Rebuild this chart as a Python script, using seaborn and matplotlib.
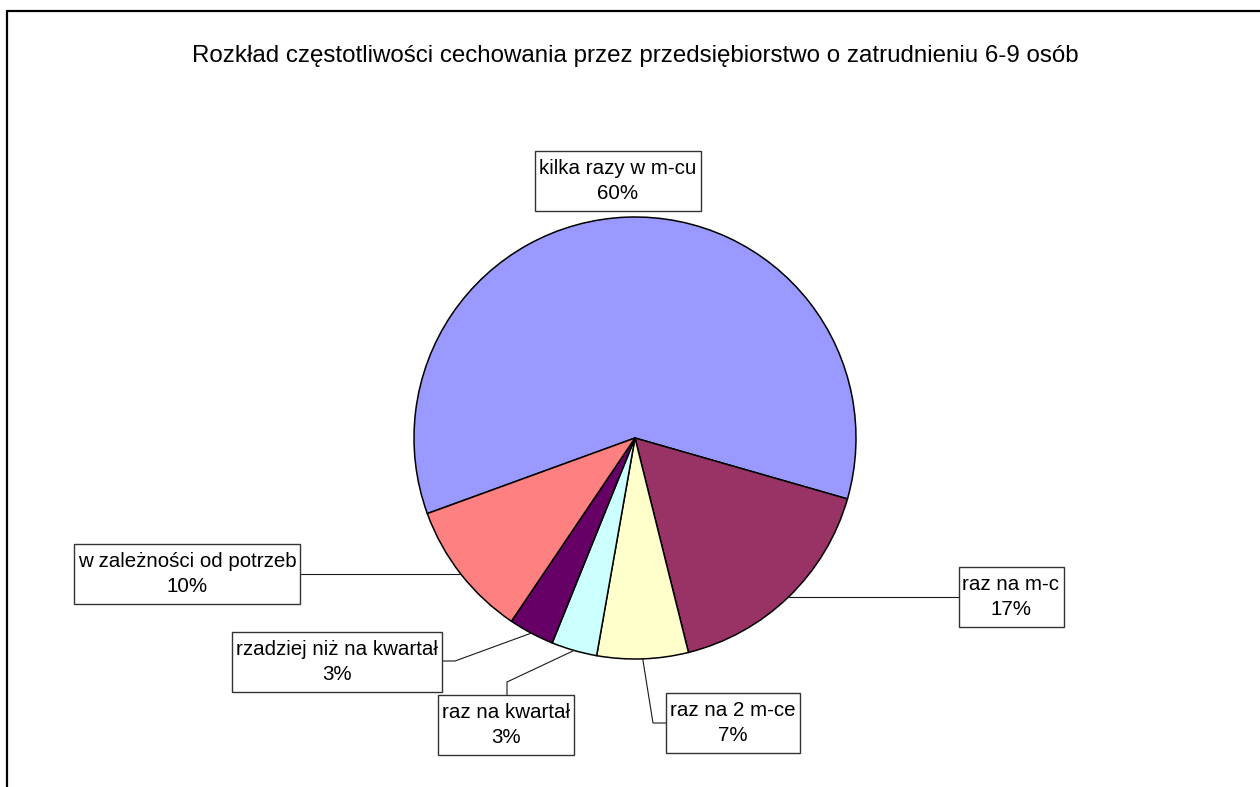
import matplotlib
matplotlib.use("Agg")
import matplotlib.pyplot as plt
import numpy as np
import seaborn as sns
from matplotlib.lines import Line2D
from matplotlib.patches import Rectangle

# data: number of firms per answer (shares, n = 30)
categories = ['kilka razy w m-cu', 'raz na m-c', 'raz na 2 m-ce', 'raz na kwartał',
              'rzadziej niż na kwartał', 'w zależności od potrzeb']
counts = [18, 5, 2, 1, 1, 3]
slice_colors = ['#9999FF', '#993366', '#FFFFCC', '#CCFFFF', '#660066', '#FF8080']
title = 'Rozkład częstotliwości cechowania przez przedsiębiorstwo o zatrudnieniu 6-9 osób'

sns.set_style("white")
plt.rcParams['font.family'] = ['Liberation Sans', 'DejaVu Sans']
plt.rcParams['text.color'] = 'black'

W, H = 1260, 787
CX, CY, R = 635, 438, 221   # pie centre / radius in pixels

fig = plt.figure(figsize=(W / 100, H / 100), dpi=100)
ax = fig.add_axes([0, 0, 1, 1])


def px(x, y):
    # pixel position (from top-left) -> data units of the pie axes
    return (x - CX) / R, (CY - y) / R


wedges, _ = ax.pie(counts, colors=sns.color_palette(slice_colors), startangle=200,
                   counterclock=False, radius=1, center=(0, 0), frame=True,
                   wedgeprops=dict(edgecolor='black', linewidth=1.1))
ax.set_xlim(-CX / R, (W - CX) / R)
ax.set_ylim(-(H - CY) / R, CY / R)
ax.axis('off')

total = sum(counts)
labels = [f"{c}\n{round(100 * v / total)}%" for c, v in zip(categories, counts)]

# label box centres and leader elbows (pixels)
label_pos = [(618, 181), (1011, 597), (733, 723), (506, 725), (337, 662), (187, 574)]
elbows = [None, [(959, None)], [(653, 723), (667, 723)], [(507, 682), (507, 695)],
          [(455, 661), (442, 661)], [(301, None)]]

texts = []
for lab, (x, y) in zip(labels, label_pos):
    t = ax.text(*px(x, y), lab, ha='center', va='center', fontsize=14.8,
                linespacing=1.35, color='black', zorder=6)
    texts.append(t)

# leader lines from the middle of each wedge outer edge
for w, pts in zip(wedges, elbows):
    if pts is None:
        continue
    mid = np.deg2rad((w.theta1 + w.theta2) / 2)
    x0, y0 = np.cos(mid), np.sin(mid)
    xs, ys = [x0], [y0]
    for ex, ey in pts:
        dx, dy = px(ex, ey if ey is not None else 0)
        xs.append(dx)
        ys.append(y0 if ey is None else dy)
    ax.plot(xs, ys, color='#1a1a1a', lw=0.8, zorder=3)

# boxes around the labels, sized from the rendered text
fig.canvas.draw()
renderer = fig.canvas.get_renderer()
for t in texts:
    bb = t.get_window_extent(renderer)
    x0, y0 = bb.x0 - 4, bb.y0 - 8
    w, h = bb.width + 8, bb.height + 16
    ax.add_patch(Rectangle((x0 / W, y0 / H), w / W, h / H, transform=ax.transAxes,
                           facecolor='white', edgecolor='#333333', lw=1.0, zorder=4))

fig.text(CX / W, 1 - 62 / H, title, ha='center', va='baseline', fontsize=17.4,
         color='black')

# chart area border (only top and left edges fall inside the picture)
fig.add_artist(Line2D([7 / W, 1], [1 - 11 / H, 1 - 11 / H], transform=fig.transFigure,
                      color='black', lw=1.6))
fig.add_artist(Line2D([7 / W, 7 / W], [0, 1 - 11 / H], transform=fig.transFigure,
                      color='black', lw=1.6))

fig.savefig('out.png', dpi=100, facecolor='white')
